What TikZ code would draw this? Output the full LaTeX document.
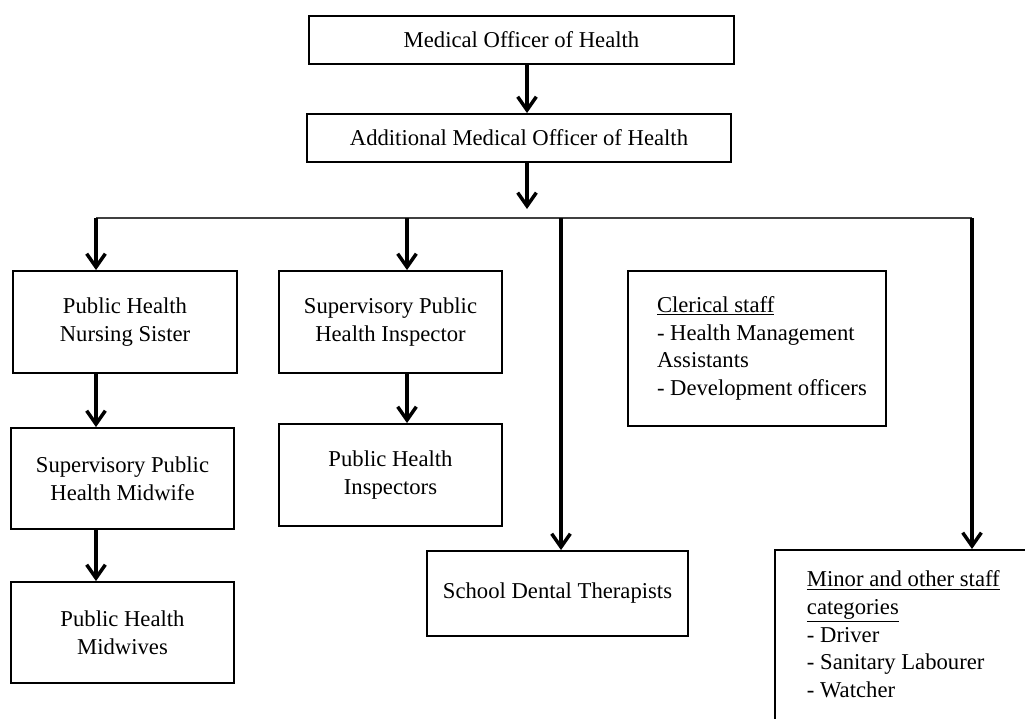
\documentclass[tikz,border=0pt]{standalone}
\usepackage{fontspec}
\setmainfont{Liberation Serif}
\usetikzlibrary{arrows.meta}

\tikzset{
  box/.style={draw=black, line width=1.4pt, fill=white, align=center,
              font=\fontsize{17}{20.7}\selectfont, inner sep=0pt},
  arr/.style={line width=2.6pt, -{Straight Barb[length=10pt,width=14pt]}},
  bus/.style={line width=1pt, draw=black!75},
}

\begin{document}
\begin{tikzpicture}[x=0.75pt, y=-0.75pt]
  \useasboundingbox (0,0) rectangle (1025,718);
  \clip (0,0) rectangle (1025,718);

  % management chain
  \node[box, minimum width=318.75pt, minimum height=36pt] (MOH) at (521.5,40)
    {Medical Officer of Health};
  \node[box, minimum width=318pt, minimum height=36pt] (AMOH) at (519,138)
    {Additional Medical Officer of Health};

  % left column: nursing / midwifery
  \node[box, minimum width=168pt, minimum height=76.5pt] (PHNS) at (125,322)
    {Public Health\\Nursing Sister};
  \node[box, minimum width=167.25pt, minimum height=75.75pt] (SPHM) at (122.5,478.5)
    {Supervisory Public\\Health Midwife};
  \node[box, minimum width=167.25pt, minimum height=75.75pt] (PHM) at (122.5,632.5)
    {Public Health\\Midwives};

  % second column: inspectors
  \node[box, minimum width=167.25pt, minimum height=76.5pt] (SPHI) at (390.5,322)
    {Supervisory Public\\Health Inspector};
  \node[box, minimum width=167.25pt, minimum height=76.5pt] (PHI) at (390.5,475)
    {Public Health\\Inspectors};

  % dental therapists
  \node[box, minimum width=195.75pt, minimum height=63.75pt] (SDT) at (557.5,593.5)
    {School Dental Therapists};

  % clerical staff
  \node[box] (Clerical) at (757,348.5)
    {\parbox[c][116.25pt][c]{193.5pt}{\raggedright\leftskip=21.75pt
      \underline{Clerical staff}\\
      - Health Management\\
      Assistants\\
      - Development officers}};

  % minor staff (runs off the lower right corner)
  \node[box, anchor=north west] (Minor) at (774,549)
    {\parbox[c][135pt][t]{195pt}{\raggedright\leftskip=24pt
      \rule{0pt}{27.75pt}\underline{Minor and other staff}\\
      \underline{categories}\\
      - Driver\\
      - Sanitary Labourer\\
      - Watcher}};

  % distribution bus
  \coordinate (amohEnd) at (527,209);
  \coordinate (busL) at (96,218);
  \coordinate (busB) at (407,218);
  \coordinate (busC) at (561,218);
  \coordinate (busR) at (972,218);

  \draw[arr] (MOH.south -| amohEnd) -- (AMOH.north -| amohEnd);
  \draw[arr] (AMOH.south -| amohEnd) -- (amohEnd);
  \draw[bus] (busL) -- (busR);

  \draw[arr] (busL) -- (busL |- PHNS.north);
  \draw[arr] (busB) -- (busB |- SPHI.north);
  \draw[arr] (busC) -- (busC |- SDT.north);
  \draw[arr] (busR) -- (busR |- Minor.north);

  \draw[arr] (PHNS.south -| busL) -- (SPHM.north -| busL);
  \draw[arr] (SPHM.south -| busL) -- (PHM.north -| busL);
  \draw[arr] (SPHI.south -| busB) -- (PHI.north -| busB);
\end{tikzpicture}
\end{document}
